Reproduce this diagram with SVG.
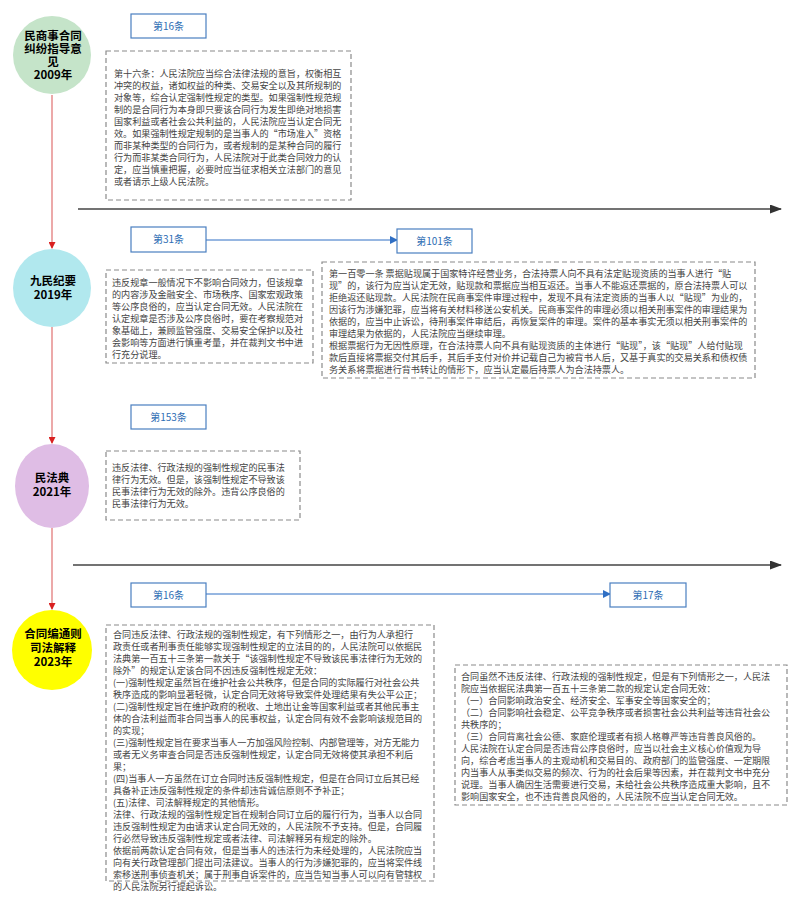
<svg xmlns="http://www.w3.org/2000/svg" width="800" height="916" viewBox="0 0 800 916">
<style>
.t{font-family:"Noto Sans CJK SC","Liberation Sans",sans-serif;font-size:9.1px;fill:#444}
.lb{font-family:"Noto Sans CJK SC","Liberation Sans",sans-serif;font-size:10px;fill:#2e6db4;text-anchor:middle}
.cl{font-family:"Noto Sans CJK SC","Liberation Sans",sans-serif;font-size:11.5px;font-weight:bold;fill:#000;text-anchor:middle}
.box{fill:#fff;stroke:#8a8a8a;stroke-width:1.2;stroke-dasharray:5 3}
.tag{fill:#fff;stroke:#4a7fc0;stroke-width:1.2}
</style>
<defs>
<marker id="ab" markerWidth="8" markerHeight="8" refX="7" refY="4" orient="auto" markerUnits="userSpaceOnUse"><path d="M0,0 L8,4 L0,8z" fill="#2f6fc4"/></marker>
<marker id="ar" markerWidth="7" markerHeight="7" refX="6" refY="3.5" orient="auto" markerUnits="userSpaceOnUse"><path d="M0,0 L7,3.5 L0,7z" fill="#d92020"/></marker>
<marker id="ak" markerWidth="12" markerHeight="9" refX="11" refY="4.5" orient="auto" markerUnits="userSpaceOnUse"><path d="M0,0 L12,4.5 L0,9z" fill="#333"/></marker>
</defs>
<g id="connectors">
<line x1="52" y1="95" x2="52" y2="248" stroke="#e07070" stroke-width="1.2" marker-end="url(#ar)"/>
<line x1="52" y1="327" x2="52" y2="443" stroke="#e07070" stroke-width="1.2" marker-end="url(#ar)"/>
<line x1="52" y1="528" x2="52" y2="609" stroke="#e07070" stroke-width="1.2" marker-end="url(#ar)"/>
<line x1="78" y1="209" x2="781" y2="209" stroke="#444" stroke-width="1.5" marker-end="url(#ak)"/>
<line x1="73" y1="565" x2="781" y2="565" stroke="#444" stroke-width="1.5" marker-end="url(#ak)"/>
<line x1="206" y1="240" x2="397" y2="240" stroke="#2f6fc4" stroke-width="1" marker-end="url(#ab)"/>
<line x1="206" y1="594" x2="610" y2="594" stroke="#2f6fc4" stroke-width="1" marker-end="url(#ab)"/>
</g>
<g id="n2009"><circle cx="52" cy="55" r="39" fill="#c5e4c9"/>
<text class="cl" x="53" y="40">民商事合同</text><text class="cl" x="53" y="53">纠纷指导意</text><text class="cl" x="53" y="66">见</text><text class="cl" x="53" y="79">2009年</text></g>
<g id="n2019"><circle cx="52" cy="288" r="39" fill="#b1e8ee"/>
<text class="cl" x="53" y="285">九民纪要</text><text class="cl" x="53" y="299">2019年</text></g>
<g id="n2021"><ellipse cx="52" cy="486" rx="37" ry="42" fill="#dfbde5"/>
<text class="cl" x="52" y="482">民法典</text><text class="cl" x="52" y="496">2021年</text></g>
<g id="n2023"><circle cx="52" cy="650" r="40" fill="#ffff00"/>
<text class="cl" x="53" y="638">合同编通则</text><text class="cl" x="53" y="652">司法解释</text><text class="cl" x="53" y="666">2023年</text></g>
<g id="tag1"><rect class="tag" x="131" y="14" width="75" height="24"/><text class="lb" x="168.5" y="30">第16条</text></g>
<g id="tag2"><rect class="tag" x="131" y="227" width="75" height="25"/><text class="lb" x="168.5" y="243">第31条</text></g>
<g id="tag3"><rect class="tag" x="397" y="229" width="75" height="24"/><text class="lb" x="434.5" y="245">第101条</text></g>
<g id="tag4"><rect class="tag" x="131" y="405" width="75" height="24"/><text class="lb" x="168.5" y="421">第153条</text></g>
<g id="tag5"><rect class="tag" x="131" y="583" width="75" height="24"/><text class="lb" x="168.5" y="599">第16条</text></g>
<g id="tag6"><rect class="tag" x="610" y="583" width="76" height="24"/><text class="lb" x="648" y="599">第17条</text></g>
<g id="box1"><rect class="box" x="106" y="51" width="245" height="149"/>
<text class="t"><tspan x="114" y="77">第十六条：人民法院应当综合法律法规的意旨，权衡相互</tspan><tspan x="114" y="89">冲突的权益，诸如权益的种类、交易安全以及其所规制的</tspan><tspan x="114" y="101">对象等，综合认定强制性规定的类型。如果强制性规范规</tspan><tspan x="114" y="113">制的是合同行为本身即只要该合同行为发生即绝对地损害</tspan><tspan x="114" y="125">国家利益或者社会公共利益的，人民法院应当认定合同无</tspan><tspan x="114" y="137">效。如果强制性规定规制的是当事人的“市场准入”资格</tspan><tspan x="114" y="149">而非某种类型的合同行为，或者规制的是某种合同的履行</tspan><tspan x="114" y="161">行为而非某类合同行为，人民法院对于此类合同效力的认</tspan><tspan x="114" y="173">定，应当慎重把握，必要时应当征求相关立法部门的意见</tspan><tspan x="114" y="185">或者请示上级人民法院。</tspan></text></g>
<g id="box2"><rect class="box" x="106" y="270" width="207" height="93"/>
<text class="t"><tspan x="112" y="286">违反规章一般情况下不影响合同效力，但该规章</tspan><tspan x="112" y="298">的内容涉及金融安全、市场秩序、国家宏观政策</tspan><tspan x="112" y="310">等公序良俗的，应当认定合同无效。人民法院在</tspan><tspan x="112" y="322">认定规章是否涉及公序良俗时，要在考察规范对</tspan><tspan x="112" y="334">象基础上，兼顾监管强度、交易安全保护以及社</tspan><tspan x="112" y="346">会影响等方面进行慎重考量，并在裁判文书中进</tspan><tspan x="112" y="358">行充分说理。</tspan></text></g>
<g id="box3"><rect class="box" x="322" y="262" width="433" height="116"/>
<text class="t"><tspan x="329" y="277">第一百零一条 票据贴现属于国家特许经营业务，合法持票人向不具有法定贴现资质的当事人进行“贴</tspan><tspan x="329" y="289">现”的，该行为应当认定无效，贴现款和票据应当相互返还。当事人不能返还票据的，原合法持票人可以</tspan><tspan x="329" y="301">拒绝返还贴现款。人民法院在民商事案件审理过程中，发现不具有法定资质的当事人以“贴现”为业的，</tspan><tspan x="329" y="313">因该行为涉嫌犯罪，应当将有关材料移送公安机关。民商事案件的审理必须以相关刑事案件的审理结果为</tspan><tspan x="329" y="325">依据的，应当中止诉讼，待刑事案件审结后，再恢复案件的审理。案件的基本事实无须以相关刑事案件的</tspan><tspan x="329" y="337">审理结果为依据的，人民法院应当继续审理。</tspan><tspan x="329" y="349">根据票据行为无因性原理，在合法持票人向不具有贴现资质的主体进行“贴现”，该“贴现”人给付贴现</tspan><tspan x="329" y="361">款后直接将票据交付其后手，其后手支付对价并记载自己为被背书人后，又基于真实的交易关系和债权债</tspan><tspan x="329" y="373">务关系将票据进行背书转让的情形下，应当认定最后持票人为合法持票人。</tspan></text></g>
<g id="box4"><rect class="box" x="106" y="451" width="194" height="69"/>
<text class="t"><tspan x="112" y="471">违反法律、行政法规的强制性规定的民事法</tspan><tspan x="112" y="483">律行为无效。但是，该强制性规定不导致该</tspan><tspan x="112" y="495">民事法律行为无效的除外。违背公序良俗的</tspan><tspan x="112" y="507">民事法律行为无效。</tspan></text></g>
<g id="box5"><rect class="box" x="106" y="625" width="328" height="256"/>
<text class="t"><tspan x="113" y="638"> 合同违反法律、行政法规的强制性规定，有下列情形之一，由行为人承担行</tspan><tspan x="113" y="650">政责任或者刑事责任能够实现强制性规定的立法目的的，人民法院可以依据民</tspan><tspan x="113" y="662">法典第一百五十三条第一款关于“该强制性规定不导致该民事法律行为无效的</tspan><tspan x="113" y="674">除外”的规定认定该合同不因违反强制性规定无效：</tspan><tspan x="113" y="686">(一)强制性规定虽然旨在维护社会公共秩序，但是合同的实际履行对社会公共</tspan><tspan x="113" y="698">秩序造成的影响显著轻微，认定合同无效将导致案件处理结果有失公平公正；</tspan><tspan x="113" y="710">(二)强制性规定旨在维护政府的税收、土地出让金等国家利益或者其他民事主</tspan><tspan x="113" y="722">体的合法利益而非合同当事人的民事权益，认定合同有效不会影响该规范目的</tspan><tspan x="113" y="734">的实现；</tspan><tspan x="113" y="746">(三)强制性规定旨在要求当事人一方加强风险控制、内部管理等，对方无能力</tspan><tspan x="113" y="758">或者无义务审查合同是否违反强制性规定，认定合同无效将使其承担不利后</tspan><tspan x="113" y="770">果；</tspan><tspan x="113" y="782">(四)当事人一方虽然在订立合同时违反强制性规定，但是在合同订立后其已经</tspan><tspan x="113" y="794">具备补正违反强制性规定的条件却违背诚信原则不予补正；</tspan><tspan x="113" y="806">(五)法律、司法解释规定的其他情形。</tspan><tspan x="113" y="818">法律、行政法规的强制性规定旨在规制合同订立后的履行行为，当事人以合同</tspan><tspan x="113" y="830">违反强制性规定为由请求认定合同无效的，人民法院不予支持。但是，合同履</tspan><tspan x="113" y="842">行必然导致违反强制性规定或者法律、司法解释另有规定的除外。</tspan><tspan x="113" y="854">依据前两款认定合同有效，但是当事人的违法行为未经处理的，人民法院应当</tspan><tspan x="113" y="866">向有关行政管理部门提出司法建议。当事人的行为涉嫌犯罪的，应当将案件线</tspan><tspan x="113" y="878">索移送刑事侦查机关；属于刑事自诉案件的，应当告知当事人可以向有管辖权</tspan><tspan x="113" y="890">的人民法院另行提起诉讼。</tspan></text></g>
<g id="box6"><rect class="box" x="455" y="665" width="332" height="140"/>
<text class="t"><tspan x="461" y="680">合同虽然不违反法律、行政法规的强制性规定，但是有下列情形之一，人民法</tspan><tspan x="461" y="692">院应当依据民法典第一百五十三条第二款的规定认定合同无效：</tspan><tspan x="461" y="704">（一）合同影响政治安全、经济安全、军事安全等国家安全的；</tspan><tspan x="461" y="716">（二）合同影响社会稳定、公平竞争秩序或者损害社会公共利益等违背社会公</tspan><tspan x="461" y="728">共秩序的；</tspan><tspan x="461" y="740">（三）合同背离社会公德、家庭伦理或者有损人格尊严等违背善良风俗的。</tspan><tspan x="461" y="752">人民法院在认定合同是否违背公序良俗时，应当以社会主义核心价值观为导</tspan><tspan x="461" y="764">向，综合考虑当事人的主观动机和交易目的、政府部门的监管强度、一定期限</tspan><tspan x="461" y="776">内当事人从事类似交易的频次、行为的社会后果等因素，并在裁判文书中充分</tspan><tspan x="461" y="788">说理。当事人确因生活需要进行交易，未给社会公共秩序造成重大影响，且不</tspan><tspan x="461" y="800">影响国家安全，也不违背善良风俗的，人民法院不应当认定合同无效。</tspan></text></g>
</svg>
